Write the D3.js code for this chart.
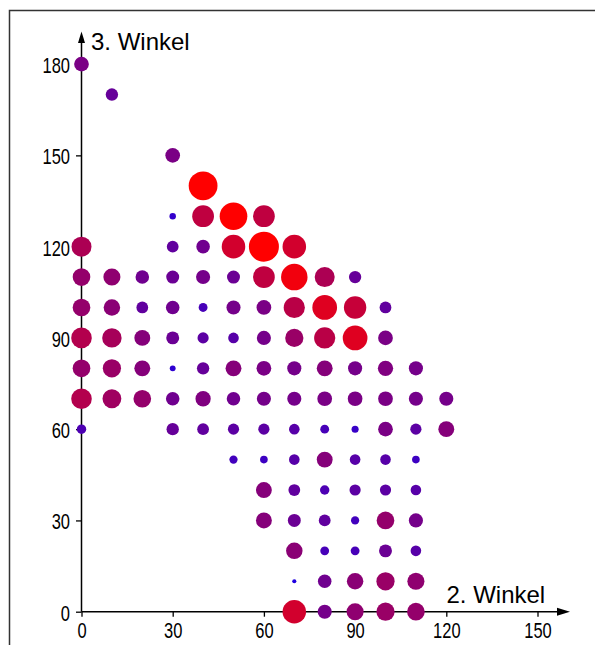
<!DOCTYPE html>
<html>
<head>
<meta charset="utf-8">
<script src="https://cdn.jsdelivr.net/npm/d3@7"></script>
<style>
  body { margin: 0; background: #fff; }
  svg { display: block; }
</style>
</head>
<body>
<script>
// Frequency of angle combinations: 2. Winkel (x), 3. Winkel (y), Anzahl (count)
const winkel2 = [
  0,
  10,
  30,
  40,
  30, 40, 50, 60,
  0, 30, 40, 50, 60, 70,
  0, 10, 20, 30, 40, 50, 60, 70, 80, 90,
  0, 10, 20, 30, 40, 50, 60, 70, 80, 90, 100,
  0, 10, 20, 30, 40, 50, 60, 70, 80, 90, 100,
  0, 10, 20, 30, 40, 50, 60, 70, 80, 90, 100, 110,
  0, 10, 20, 30, 40, 50, 60, 70, 80, 90, 100, 110, 120,
  0, 30, 40, 50, 60, 70, 80, 90, 100, 110, 120,
  50, 60, 70, 80, 90, 100, 110,
  60, 70, 80, 90, 100, 110,
  60, 70, 80, 90, 100, 110,
  70, 80, 90, 100, 110,
  70, 80, 90, 100, 110,
  70, 80, 90, 100, 110
];
const winkel3 = [
  180,
  170,
  150,
  140,
  130, 130, 130, 130,
  120, 120, 120, 120, 120, 120,
  110, 110, 110, 110, 110, 110, 110, 110, 110, 110,
  100, 100, 100, 100, 100, 100, 100, 100, 100, 100, 100,
  90, 90, 90, 90, 90, 90, 90, 90, 90, 90, 90,
  80, 80, 80, 80, 80, 80, 80, 80, 80, 80, 80, 80,
  70, 70, 70, 70, 70, 70, 70, 70, 70, 70, 70, 70, 70,
  60, 60, 60, 60, 60, 60, 60, 60, 60, 60, 60,
  50, 50, 50, 50, 50, 50, 50,
  40, 40, 40, 40, 40, 40,
  30, 30, 30, 30, 30, 30,
  20, 20, 20, 20, 20,
  10, 10, 10, 10, 10,
  0, 0, 0, 0, 0
];
const anzahl = [
  24,
  20,
  24,
  48,
  10, 36, 46, 36,
  33, 19, 22, 39, 50, 39,
  29, 28, 22, 21, 23, 21, 36, 44, 33, 20,
  29, 27, 19, 22, 14, 23, 24, 35, 41, 37, 19,
  34, 32, 26, 21, 18, 17, 23, 30, 35, 41, 24,
  29, 30, 26, 9, 20, 26, 24, 23, 26, 23, 25, 23,
  34, 31, 29, 22, 25, 22, 23, 23, 24, 24, 24, 23, 23,
  15, 20, 19, 18, 18, 17, 14, 11, 24, 18, 26,
  13, 12, 17, 26, 17, 17, 12,
  26, 19, 15, 18, 18, 17,
  26, 21, 19, 13, 29, 23,
  27, 14, 14, 21, 17,
  6, 22, 27, 30, 28,
  39, 23, 28, 30, 29
];
const xTicks = [0, 30, 60, 90, 120, 150];
const yTicks = [0, 30, 60, 90, 120, 150, 180];
const xTitle = "2. Winkel";
const yTitle = "3. Winkel";

const W = 595, H = 645;
const svg = d3.select("body").append("svg")
  .attr("width", W).attr("height", H);

// Frame around the figure
svg.append("rect")
  .attr("x", 9.5).attr("y", 10.5)
  .attr("width", 620).attr("height", 660)
  .attr("fill", "none").attr("stroke", "#333").attr("stroke-width", 1.5);

const x = d3.scaleLinear().domain([0, 150]).range([81.5, 537.5]);
const y = d3.scaleLinear().domain([0, 180]).range([611.7, 64.1]);
const r = d3.scaleLinear().domain([0, 50]).range([0.3, 15]);
// Blue-to-red ramp, reaching full red a little before the largest count
const ramp = d3.scaleLinear().domain([0, 30, 46]).range([0, 0.6, 1]).clamp(true);
const color = n => d3.interpolateRgb("#0000ff", "#ff0000")(ramp(n));

const labelFont = "'Liberation Sans', Arial, Helvetica, sans-serif";
const squeeze = 0.75;

// Ticks and tick labels
const gx = svg.append("g")
  .attr("transform", `translate(0,${y(0)})`)
  .call(d3.axisBottom(x).tickValues(xTicks).tickSize(5).tickFormat(d3.format("d")));
const gy = svg.append("g")
  .attr("transform", `translate(${x(0)},0)`)
  .call(d3.axisLeft(y).tickValues(yTicks).tickSize(5.5).tickFormat(d3.format("d")));

[gx, gy].forEach(g => {
  g.select(".domain").remove();
  g.selectAll(".tick line").attr("stroke", "#000").attr("stroke-width", 1.3);
  g.selectAll(".tick text")
    .attr("fill", "#000")
    .style("font-family", labelFont)
    .style("font-size", "22px");
});
gx.selectAll(".tick text")
  .attr("y", 26.6).attr("dy", 0)
  .attr("transform", `scale(${squeeze},1)`);
gy.selectAll(".tick text")
  .attr("x", -11.5 / squeeze).attr("dy", 8.5)
  .attr("transform", `scale(${squeeze},1)`);

// Axis lines with arrowheads
const axes = svg.append("g").attr("stroke", "#000").attr("stroke-width", 1.5);
axes.append("line")
  .attr("x1", x(0)).attr("x2", 560).attr("y1", y(0)).attr("y2", y(0));
axes.append("line")
  .attr("x1", x(0)).attr("x2", x(0)).attr("y1", y(0)).attr("y2", 42);
svg.append("path")
  .attr("d", `M570,${y(0)} L557,${y(0) - 4} L557,${y(0) + 4} Z`)
  .attr("fill", "#000");
svg.append("path")
  .attr("d", `M${x(0)},31.5 L${x(0) - 3.5},43 L${x(0) + 3.5},43 Z`)
  .attr("fill", "#000");

// Axis titles
svg.append("text")
  .attr("x", 446.5).attr("y", 603)
  .style("font-family", labelFont).style("font-size", "24px")
  .attr("fill", "#000")
  .text(xTitle);
svg.append("text")
  .attr("x", 91).attr("y", 50)
  .style("font-family", labelFont).style("font-size", "24px")
  .attr("fill", "#000")
  .text(yTitle);

// Bubbles
const points = anzahl.map((n, i) => ({ w2: winkel2[i], w3: winkel3[i], n }));
svg.append("g")
  .selectAll("circle")
  .data(points)
  .join("circle")
  .attr("cx", d => x(d.w2))
  .attr("cy", d => y(d.w3))
  .attr("r", d => r(d.n))
  .attr("fill", d => color(d.n));
</script>
</body>
</html>
